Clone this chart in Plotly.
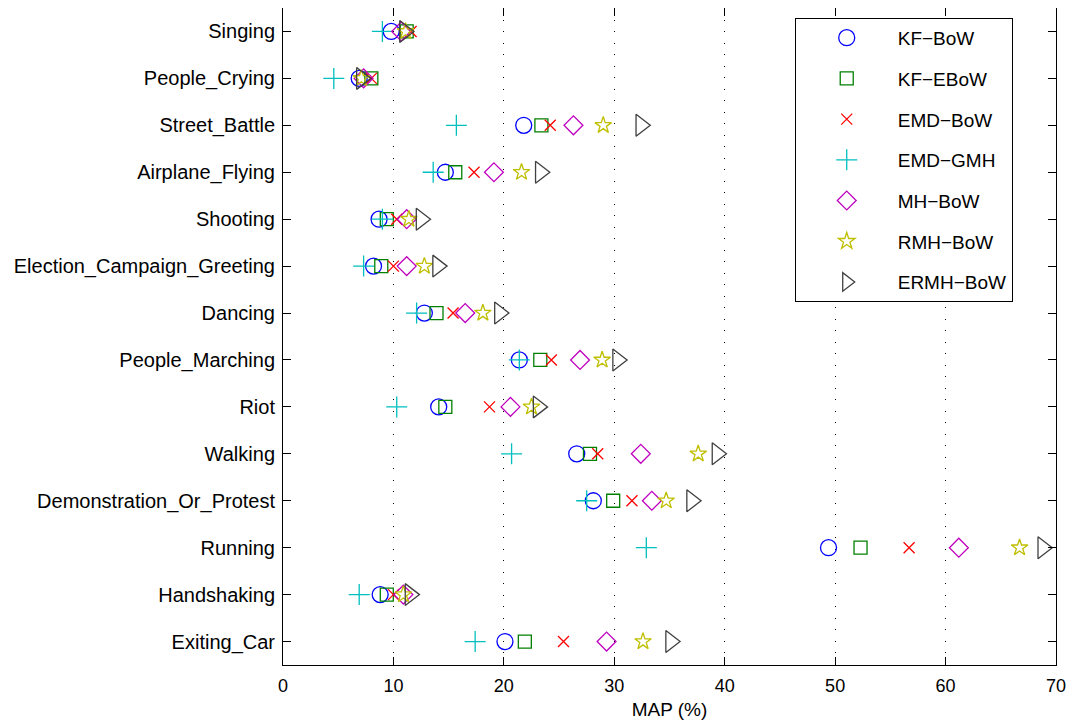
import plotly.graph_objects as go

categories = ["Singing", "People_Crying", "Street_Battle", "Airplane_Flying", "Shooting",
              "Election_Campaign_Greeting", "Dancing", "People_Marching", "Riot", "Walking",
              "Demonstration_Or_Protest", "Running", "Handshaking", "Exiting_Car"]

kf_bow   = [9.8, 6.9, 21.8, 14.7, 8.7, 8.2, 12.8, 21.4, 14.1, 26.6, 28.1, 49.4, 8.8, 20.1]
kf_ebow  = [11.2, 8.0, 23.4, 15.6, 9.4, 8.9, 13.9, 23.3, 14.7, 27.8, 29.9, 52.3, 9.4, 21.9]
emd_bow  = [11.6, 8.0, 24.2, 17.3, 10.3, 10.0, 15.4, 24.3, 18.7, 28.5, 31.6, 56.7, 10.0, 25.4]
emd_gmh  = [9.0, 4.6, 15.7, 13.6, 9.0, 7.3, 12.1, 21.4, 10.3, 20.7, 27.5, 32.9, 6.9, 17.4]
mh_bow   = [10.7, 7.3, 26.3, 19.1, 11.2, 11.2, 16.5, 26.9, 20.6, 32.4, 33.4, 61.2, 10.9, 29.3]
rmh_bow  = [11.1, 7.1, 29.0, 21.6, 11.4, 12.8, 18.1, 28.9, 22.5, 37.6, 34.7, 66.7, 10.9, 32.6]
ermh_bow = [11.0, 7.1, 32.4, 23.3, 12.5, 14.0, 19.6, 30.3, 23.1, 39.3, 37.0, 68.8, 11.5, 35.1]

series = [
    ("KF−BoW", kf_bow, "circle-open", "#0000ff", 16),
    ("KF−EBoW", kf_ebow, "square-open", "#008000", 13),
    ("EMD−BoW", emd_bow, "x-thin-open", "#ff0000", 11),
    ("EMD−GMH", emd_gmh, "cross-thin-open", "#00bfbf", 15),
    ("MH−BoW", mh_bow, "diamond-open", "#bf00bf", 14.5),
    ("RMH−BoW", rmh_bow, "star-open", "#bfbf00", 12.5),
    ("ERMH−BoW", ermh_bow, "triangle-right-open", "#404040", 19),
]

fig = go.Figure()
for i, (name, vals, sym, col, sz) in enumerate(series):
    fig.add_trace(go.Scatter(
        x=vals, y=categories, mode="markers", name=name, legendgroup=f"g{i}",
        marker=dict(symbol=sym, size=sz, color=col, line=dict(color=col, width=1.3)),
    ))

font = "Liberation Sans, Arial, Helvetica, sans-serif"
fig.update_layout(
    width=1075, height=725,
    margin=dict(l=275, r=27, t=0, b=68),
    paper_bgcolor="white", plot_bgcolor="white",
    font=dict(family=font, size=18, color="black"),
    legend=dict(x=0.662, y=0.985, xanchor="left", yanchor="top",
                bordercolor="black", borderwidth=1, bgcolor="white",
                font=dict(size=19), tracegroupgap=13, itemwidth=92),
    showlegend=True,
)
fig.update_xaxes(range=[0, 70], dtick=10, showgrid=True, griddash="1px,10.5px", gridcolor="black",
                 gridwidth=1, showline=True, linecolor="black", linewidth=1, mirror="ticks",
                 ticks="inside", ticklen=8, tickcolor="black", zeroline=False, automargin=False,
                 ticklabelstandoff=4,
                 title=dict(text="MAP (%)", standoff=8, font=dict(size=19)), tickfont=dict(size=18))
fig.update_yaxes(categoryorder="array", categoryarray=categories, autorange=False,
                 range=[13.5, -0.5], showgrid=False, showline=True, linecolor="black",
                 linewidth=1, mirror="ticks", ticks="inside", ticklen=8, tickcolor="black",
                 tickfont=dict(size=20), ticklabelstandoff=3, automargin=False)

fig.write_html("out.html")
